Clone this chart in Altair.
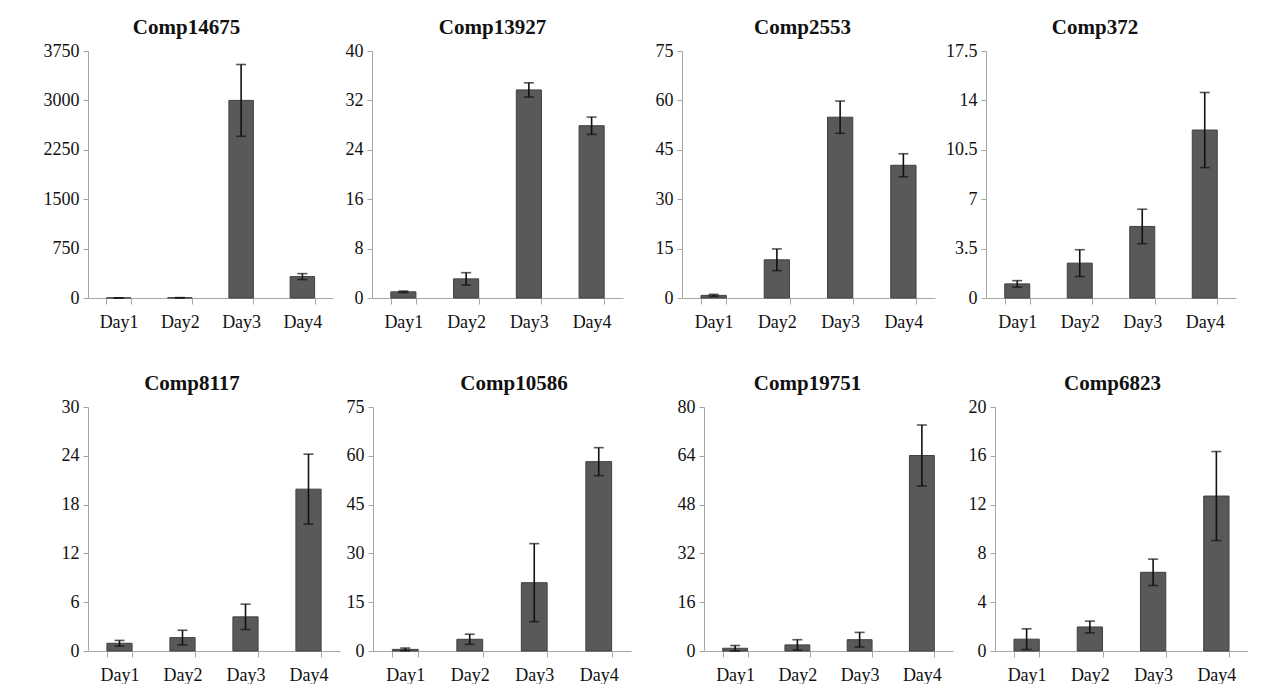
import altair as alt
import pandas as pd

days = ["Day1", "Day2", "Day3", "Day4"]

names_row1 = ["Comp14675", "Comp13927", "Comp2553", "Comp372"]
names_row2 = ["Comp8117", "Comp10586", "Comp19751", "Comp6823"]

mean_14675 = [2, 4, 3000, 325]
err_14675 = [1, 2, 545, 45]
ticks_14675 = [0, 750, 1500, 2250, 3000, 3750]

mean_13927 = [1.0, 3.1, 33.7, 27.9]
err_13927 = [0.12, 1.0, 1.15, 1.4]
ticks_13927 = [0, 8, 16, 24, 32, 40]

mean_2553 = [0.8, 11.6, 54.9, 40.3]
err_2553 = [0.3, 3.3, 4.9, 3.5]
ticks_2553 = [0, 15, 30, 45, 60, 75]

mean_372 = [1.0, 2.47, 5.07, 11.9]
err_372 = [0.23, 0.95, 1.22, 2.66]
ticks_372 = [0, 3.5, 7, 10.5, 14, 17.5]

mean_8117 = [0.95, 1.65, 4.2, 19.9]
err_8117 = [0.35, 0.9, 1.56, 4.3]
ticks_8117 = [0, 6, 12, 18, 24, 30]

mean_10586 = [0.5, 3.6, 21.0, 58.2]
err_10586 = [0.4, 1.55, 12.0, 4.3]
ticks_10586 = [0, 15, 30, 45, 60, 75]

mean_19751 = [0.9, 2.0, 3.7, 64.1]
err_19751 = [0.9, 1.7, 2.4, 10.0]
ticks_19751 = [0, 16, 32, 48, 64, 80]

mean_6823 = [0.97, 1.97, 6.45, 12.7]
err_6823 = [0.85, 0.48, 1.08, 3.65]
ticks_6823 = [0, 4, 8, 12, 16, 20]

FONT = "Liberation Serif"
BAR = "#595959"
AXIS_GRAY = "#a6a6a6"


def panel(name, mean, err, ticks, width, height, ext, title_dx):
    df = pd.DataFrame({
        "day": days,
        "value": mean,
        "lo": [m - e for m, e in zip(mean, err)],
        "hi": [m + e for m, e in zip(mean, err)],
    })
    xenc = alt.X(
        "day:N", sort=days, title=None,
        scale=alt.Scale(paddingInner=0.6, paddingOuter=0.3),
        axis=alt.Axis(labelAngle=0, tickBand="extent", tickSize=6,
                      labelPadding=9, labelFont=FONT, labelFontSize=18,
                      labelColor="#111111", domainColor=AXIS_GRAY,
                      tickColor=AXIS_GRAY, grid=False),
    )
    yscale = alt.Scale(domain=[0, ticks[-1]], nice=False, zero=True)
    yenc = alt.Y(
        "value:Q", title=None, scale=yscale,
        axis=alt.Axis(values=ticks, labelExpr="'' + datum.value",
                      tickSize=5, labelPadding=4,
                      labelFont=FONT, labelFontSize=18, labelColor="#111111",
                      domainColor=AXIS_GRAY, tickColor=AXIS_GRAY, grid=False,
                      minExtent=ext, maxExtent=ext),
    )
    base = alt.Chart(df)
    bars = base.mark_bar(color=BAR, stroke="#404040", strokeWidth=1).encode(x=xenc, y=yenc)
    rule = base.mark_rule(color="#111111", strokeWidth=1.6).encode(
        x=alt.X("day:N", sort=days, title=None),
        y=alt.Y("lo:Q", title=None, scale=yscale),
        y2="hi:Q",
    )
    cap_hi = base.mark_tick(color="#111111", size=10, thickness=1.6).encode(
        x=alt.X("day:N", sort=days, title=None),
        y=alt.Y("hi:Q", title=None, scale=yscale),
    )
    cap_lo = base.mark_tick(color="#111111", size=10, thickness=1.6).encode(
        x=alt.X("day:N", sort=days, title=None),
        y=alt.Y("lo:Q", title=None, scale=yscale),
    )
    return alt.layer(bars, rule, cap_hi, cap_lo).properties(
        width=width, height=height,
        title=alt.TitleParams(name, font=FONT, fontSize=21, fontWeight="bold",
                              color="#111111", offset=4, dx=title_dx),
    )


row1 = alt.hconcat(
    panel(names_row1[0], mean_14675, err_14675, ticks_14675, 245, 247, 80, -24),
    panel(names_row1[1], mean_13927, err_13927, ticks_13927, 251, 247, 29, -5),
    panel(names_row1[2], mean_2553, err_2553, ticks_2553, 253, 247, 49, -6),
    panel(names_row1[3], mean_372, err_372, ticks_372, 250, 247, 36, -16),
    spacing=10,
)
row2 = alt.hconcat(
    panel(names_row2[0], mean_8117, err_8117, ticks_8117, 252, 244, 72, -22),
    panel(names_row2[1], mean_10586, err_10586, ticks_10586, 258, 244, 25, 12),
    panel(names_row2[2], mean_19751, err_19751, ticks_19751, 249, 244, 67, -21),
    panel(names_row2[3], mean_6823, err_6823, ticks_6823, 253, 244, 36, -9),
    spacing=6,
)

chart = alt.vconcat(row1, row2, spacing=42).properties(
    padding={"left": 0, "top": 9, "right": 0, "bottom": 0}
).configure(background="white").configure_view(strokeWidth=0, stroke="transparent")

chart.save("out.html", embed_options={"renderer": "svg", "actions": False})
